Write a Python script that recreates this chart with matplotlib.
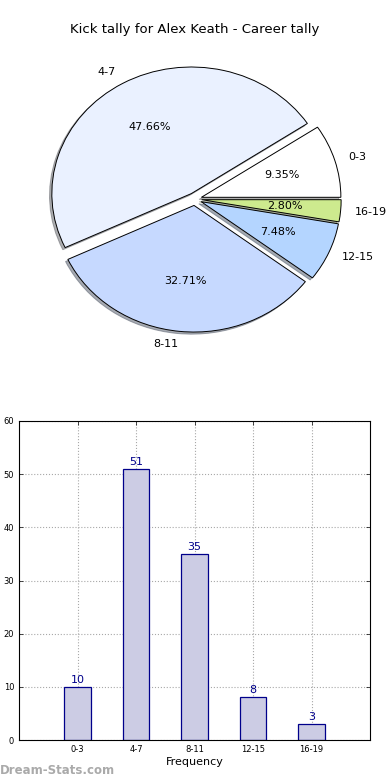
import numpy as np
import matplotlib
matplotlib.use('Agg')
import matplotlib.pyplot as plt

# data
categories = ['0-3', '4-7', '8-11', '12-15', '16-19']
counts = [10, 51, 35, 8, 3]
pie_colors = ['#ffffff', '#eaf1ff', '#c6d9ff', '#b4d5ff', '#cdea8e']
title = 'Kick tally for Alex Keath - Career tally'

fig = plt.figure(figsize=(3.9, 7.8), dpi=100)
fig.text(0.5, 1 - 30 / 780, title, ha='center', va='center', fontsize=9.5)

# pie (not equal aspect, like old matplotlib)
ax1 = fig.add_axes([0.0523, 0.5418, 0.894, 0.4058])
wedges, texts, autotexts = ax1.pie(counts, labels=categories, colors=pie_colors,
                                   explode=[0.05] * len(counts),
                                   shadow={'ox': -0.012, 'oy': -0.012, 'shade': 0.6},
                                   autopct='%.2f%%', startangle=0,
                                   wedgeprops={'edgecolor': 'black', 'linewidth': 0.7},
                                   textprops={'fontsize': 8})
ax1.set_aspect('auto')
ax1.set_xlim(-1.25, 1.25)
ax1.set_ylim(-1.25, 1.25)
ax1.axis('off')

# bar chart
ax2 = fig.add_axes([19 / 390, 40 / 780, 351 / 390, 319 / 780])
x = np.arange(1, len(categories) + 1)
bars = ax2.bar(x, counts, width=0.45, color='#ccccE4', edgecolor='#00008b', linewidth=0.9, zorder=2)
for xi, c in zip(x, counts):
    ax2.text(xi, c + 0.4, str(c), ha='center', va='bottom', color='#00008b', fontsize=8)
ax2.set_xlim(0, 6)
ax2.set_ylim(0, 60)
ax2.set_xticks(x)
ax2.set_xticklabels(categories)
ax2.set_yticks(range(0, 61, 10))
ax2.tick_params(labelsize=6, direction='in', top=True, right=True, length=3, width=0.5)
ax2.grid(True, linestyle=':', color='#a8a8a8', linewidth=0.8, zorder=0)
ax2.set_axisbelow(True)
ax2.set_xlabel('Frequency', fontsize=8, labelpad=2)
for s in ax2.spines.values():
    s.set_linewidth(0.8)

fig.text(0.0, 10 / 780, 'Dream-Stats.com', ha='left', va='center', fontsize=8.5,
         color='#aaaaaa', fontweight='bold')

fig.savefig('out.png', dpi=100)
